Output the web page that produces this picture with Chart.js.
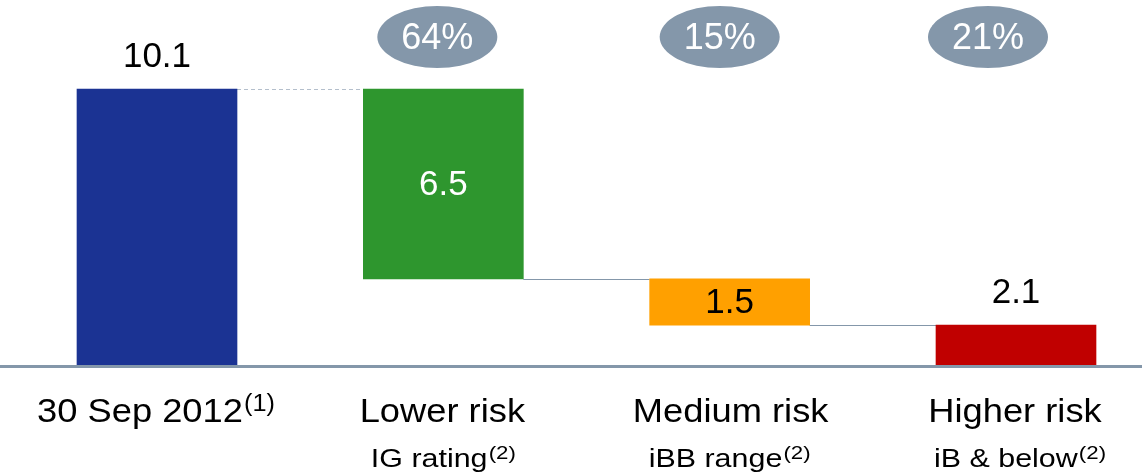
<!DOCTYPE html>
<html>
<head>
<meta charset="utf-8">
<script src="https://cdn.jsdelivr.net/npm/chart.js@4"></script>
<style>
  html, body { margin: 0; padding: 0; background: #ffffff; overflow: hidden; }
  canvas { display: block; }
</style>
</head>
<body>
<canvas id="c" width="1142" height="475"></canvas>
<script>
// ---- data ----
const categories = ['30 Sep 2012', 'Lower risk', 'Medium risk', 'Higher risk'];
const categoryNotes = ['(1)', '', '', ''];
const subLabels = ['', 'IG rating', 'iBB range', 'iB & below'];
const subNotes = ['', '(2)', '(2)', '(2)'];
const valueLabels = ['10.1', '6.5', '1.5', '2.1'];
// bar extents as drawn in the picture (axis units)
const barBottoms = [0, 3.15, 1.46, 0];
const barTops = [10.1, 10.1, 3.15, 1.46];
const shares = ['', '64%', '15%', '21%'];

// ---- styles ----
const FONT = '"Liberation Sans", Arial, Helvetica, sans-serif';
const barColors = ['#1B3393', '#2E962E', '#FFA000', '#C00000'];
const valueColors = ['#000000', '#ffffff', '#000000', '#000000'];
const valueInside = [false, true, true, false];
const badgeShift = [0, -6, -10, -28];
const labelShift = [-1, -1, 1, -1];
const subShift = [0, 0, 0, 4];
const connectorDashed = [true, false, false];
const greyBlue = '#8497AA';

function drawRich(ctx, cx, baseline, text, note, mainSize, noteSize, raise, sx) {
  ctx.font = mainSize + 'px ' + FONT;
  const w1 = ctx.measureText(text).width * sx;
  ctx.font = noteSize + 'px ' + FONT;
  const w2 = note ? (ctx.measureText(note).width + 1) * sx : 0;
  const start = cx - (w1 + w2) / 2;
  ctx.textAlign = 'left';
  ctx.textBaseline = 'alphabetic';
  ctx.fillStyle = '#000000';
  ctx.save();
  ctx.translate(start, baseline);
  ctx.scale(sx, 1);
  ctx.font = mainSize + 'px ' + FONT;
  ctx.fillText(text, 0, 0);
  ctx.restore();
  if (note) {
    ctx.save();
    ctx.translate(start + w1 + sx, baseline - raise);
    ctx.scale(sx, 1);
    ctx.font = noteSize + 'px ' + FONT;
    ctx.fillText(note, 0, 0);
    ctx.restore();
  }
}

const decorPlugin = {
  id: 'decor',
  beforeDatasetsDraw(chart) {
    const ctx = chart.ctx;
    const y = chart.scales.y;
    const meta = chart.getDatasetMeta(0);
    ctx.save();
    for (let i = 0; i < meta.data.length - 1; i++) {
      const a = meta.data[i], b = meta.data[i + 1];
      const lvl = Math.round(y.getPixelForValue(barTops[i + 1])) + 0.5;
      ctx.beginPath();
      ctx.lineWidth = 1;
      if (connectorDashed[i]) {
        ctx.setLineDash([4, 3]);
        ctx.strokeStyle = '#B4BFCC';
      } else {
        ctx.setLineDash([]);
        ctx.strokeStyle = greyBlue;
      }
      ctx.moveTo(a.x + a.width / 2, lvl);
      ctx.lineTo(b.x - b.width / 2, lvl);
      ctx.stroke();
    }
    ctx.setLineDash([]);
    ctx.restore();
  },
  afterDatasetsDraw(chart) {
    const ctx = chart.ctx;
    const y = chart.scales.y;
    const meta = chart.getDatasetMeta(0);
    ctx.save();
    const y0 = y.getPixelForValue(0);
    ctx.beginPath();
    ctx.strokeStyle = greyBlue;
    ctx.lineWidth = 3;
    ctx.moveTo(0, y0 + 1.5);
    ctx.lineTo(chart.width, y0 + 1.5);
    ctx.stroke();

    meta.data.forEach((bar, i) => {
      const top = y.getPixelForValue(barTops[i]);
      const bot = y.getPixelForValue(barBottoms[i]);
      ctx.font = '35px ' + FONT;
      ctx.fillStyle = valueColors[i];
      ctx.textAlign = 'center';
      if (valueInside[i]) {
        ctx.textBaseline = 'middle';
        ctx.fillText(valueLabels[i], bar.x, (top + bot) / 2 + 1);
      } else {
        ctx.textBaseline = 'alphabetic';
        ctx.fillText(valueLabels[i], bar.x, top - 22);
      }
      if (shares[i]) {
        const cx = bar.x + badgeShift[i];
        ctx.beginPath();
        ctx.fillStyle = greyBlue;
        ctx.ellipse(cx, 37, 60, 31, 0, 0, Math.PI * 2);
        ctx.fill();
        ctx.fillStyle = '#ffffff';
        ctx.font = '36px ' + FONT;
        ctx.textAlign = 'center';
        ctx.textBaseline = 'middle';
        ctx.fillText(shares[i], cx, 39);
      }
      drawRich(ctx, bar.x + labelShift[i], 422, categories[i], categoryNotes[i], 33, 23, 11, 1.1);
      if (subLabels[i]) {
        drawRich(ctx, bar.x + subShift[i], 467, subLabels[i], subNotes[i], 26, 19, 8, 1.17);
      }
    });
    ctx.restore();
  }
};

new Chart(document.getElementById('c'), {
  type: 'bar',
  data: {
    labels: categories,
    datasets: [{
      data: barBottoms.map((b, i) => [b, barTops[i]]),
      backgroundColor: barColors,
      borderWidth: 0,
      barThickness: 160,
      clip: false
    }]
  },
  options: {
    responsive: false,
    animation: false,
    layout: { padding: { left: 157, right: 126, top: 0, bottom: 110 } },
    plugins: { legend: { display: false }, tooltip: { enabled: false } },
    scales: {
      x: { display: false, offset: false, grid: { display: false } },
      y: { display: false, min: 0, max: 13.36, grid: { display: false } }
    }
  },
  plugins: [decorPlugin]
});
</script>
</body>
</html>
